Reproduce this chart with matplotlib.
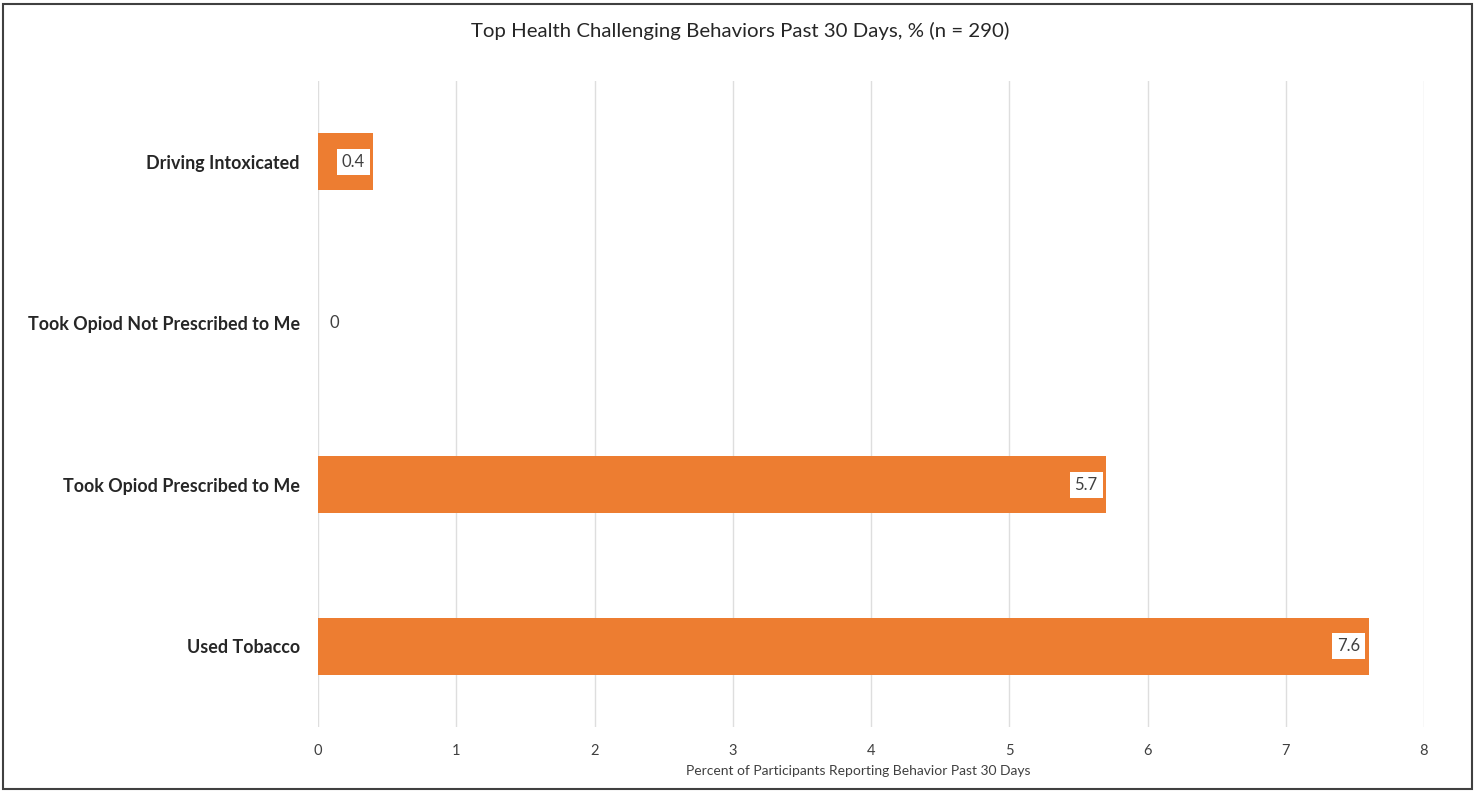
import matplotlib.pyplot as plt
from matplotlib.patches import Rectangle

plt.rcParams['font.family'] = ['Lato', 'DejaVu Sans']

categories = ["Driving Intoxicated", "Took Opiod Not Prescribed to Me",
              "Took Opiod Prescribed to Me", "Used Tobacco"]
values = [0.4, 0, 5.7, 7.6]
x_ticks = [0, 1, 2, 3, 4, 5, 6, 7, 8]

W, H = 1481, 791
fig = plt.figure(figsize=(W / 100, H / 100), dpi=100)
ax = fig.add_axes([318 / W, 1 - 727 / H, (1424 - 318) / W, (727 - 81) / H])

orange = "#ED7D31"
ypos = list(range(len(categories)))
ax.barh(ypos, values, height=0.35, color=orange, zorder=3)
ax.set_ylim(len(categories) - 0.5, -0.5)
ax.set_xlim(0, 8)
ax.set_xticks(x_ticks)
ax.set_xticklabels([str(t) for t in x_ticks], fontsize=10.5, color="#404040")
ax.set_yticks(ypos)
ax.set_yticklabels(categories, fontsize=12.9, fontweight="bold", color="#262626")
ax.tick_params(axis="both", length=0)
ax.tick_params(axis="y", pad=13)
ax.tick_params(axis="x", pad=12)
ax.grid(axis="x", color="#DEDEDE", linewidth=1, zorder=0)
for s in ax.spines.values():
    s.set_visible(False)

for y, v in zip(ypos, values):
    if v == 0:
        ax.annotate(f"{v:g}", (v, y), xytext=(8, 0), textcoords="offset points",
                    ha="left", va="center", fontsize=12, color="#404040", zorder=5)
    else:
        ax.annotate(f"{v:g}", (v, y), xytext=(-6, 0), textcoords="offset points",
                    ha="right", va="center", fontsize=12, color="#404040", zorder=5,
                    bbox=dict(boxstyle="square,pad=0.3", fc="white", ec="none"))

ax.set_xlabel("Percent of Participants Reporting Behavior Past 30 Days",
              fontsize=10, color="#404040")
ax.xaxis.set_label_coords((858 - 318) / (1424 - 318), -(765 - 727) / (727 - 81))
fig.text(740 / W, 1 - 31 / H, "Top Health Challenging Behaviors Past 30 Days, % (n = 290)",
         ha="center", va="center", fontsize=14.7, color="#262626")

fig.patches.append(Rectangle((3 / W, 2 / H), (1472 - 3) / W, (788 - 3) / H,
                             transform=fig.transFigure, fill=False,
                             edgecolor="#404040", linewidth=1.5))

fig.savefig("out.png", dpi=100, facecolor="white")
